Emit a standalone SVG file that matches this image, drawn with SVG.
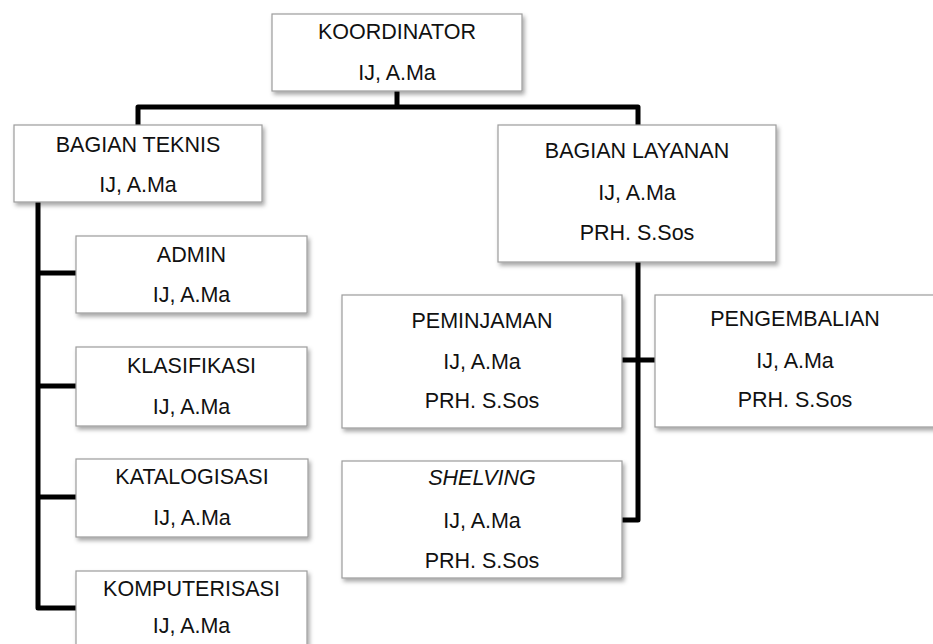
<svg xmlns="http://www.w3.org/2000/svg" width="933" height="644" viewBox="0 0 933 644">
<style>
.box{fill:#fff;stroke:#9c9c9c;stroke-width:1.2;filter:url(#sh)}
.t{font-family:"Liberation Sans",Arial,sans-serif;font-size:21.5px;fill:#111;text-anchor:middle}
.i{font-style:italic}
.c{fill:none;stroke:#000;stroke-width:5;stroke-linejoin:round}
</style>
<defs>
<filter id="sh" x="-10%" y="-10%" width="130%" height="140%">
<feDropShadow dx="2" dy="3" stdDeviation="2" flood-color="#000" flood-opacity="0.35"/>
</filter>
</defs>
<rect width="933" height="644" fill="#fff"/>
<g id="connectors">
<path class="c" d="M397,91 V107"/>
<path class="c" d="M138,125 V107 H638 V520 H622"/>
<path class="c" d="M622,360 H655"/>
<path class="c" d="M38,202 V608 H76"/>
<path class="c" d="M38,273 H76"/>
<path class="c" d="M38,386 H76"/>
<path class="c" d="M38,497 H76"/>
</g>
<g id="koordinator">
<rect class="box" x="272" y="14" width="250" height="77"/>
<text class="t" x="397" y="39">KOORDINATOR</text>
<text class="t" x="397" y="80">IJ, A.Ma</text>
</g>
<g id="bagian-teknis">
<rect class="box" x="14" y="125" width="248" height="77"/>
<text class="t" x="138" y="152">BAGIAN TEKNIS</text>
<text class="t" x="138" y="192">IJ, A.Ma</text>
</g>
<g id="bagian-layanan">
<rect class="box" x="498" y="125" width="278" height="137"/>
<text class="t" x="637" y="158">BAGIAN LAYANAN</text>
<text class="t" x="637" y="200">IJ, A.Ma</text>
<text class="t" x="637" y="240">PRH. S.Sos</text>
</g>
<g id="admin">
<rect class="box" x="76" y="236" width="231" height="77"/>
<text class="t" x="191.5" y="262">ADMIN</text>
<text class="t" x="191.5" y="302">IJ, A.Ma</text>
</g>
<g id="klasifikasi">
<rect class="box" x="76" y="347" width="231" height="79"/>
<text class="t" x="191.5" y="373">KLASIFIKASI</text>
<text class="t" x="191.5" y="414">IJ, A.Ma</text>
</g>
<g id="katalogisasi">
<rect class="box" x="76" y="459" width="232" height="78"/>
<text class="t" x="192" y="484">KATALOGISASI</text>
<text class="t" x="192" y="525">IJ, A.Ma</text>
</g>
<g id="komputerisasi">
<rect class="box" x="76" y="571" width="231" height="78"/>
<text class="t" x="191.5" y="596">KOMPUTERISASI</text>
<text class="t" x="191.5" y="633">IJ, A.Ma</text>
</g>
<g id="peminjaman">
<rect class="box" x="342" y="295" width="280" height="133"/>
<text class="t" x="482" y="328">PEMINJAMAN</text>
<text class="t" x="482" y="369">IJ, A.Ma</text>
<text class="t" x="482" y="408">PRH. S.Sos</text>
</g>
<g id="pengembalian">
<rect class="box" x="655" y="295" width="280" height="132"/>
<text class="t" x="795" y="326">PENGEMBALIAN</text>
<text class="t" x="795" y="368">IJ, A.Ma</text>
<text class="t" x="795" y="407">PRH. S.Sos</text>
</g>
<g id="shelving">
<rect class="box" x="342" y="461" width="280" height="117"/>
<text class="t i" x="482" y="485">SHELVING</text>
<text class="t" x="482" y="528">IJ, A.Ma</text>
<text class="t" x="482" y="568">PRH. S.Sos</text>
</g>
</svg>
